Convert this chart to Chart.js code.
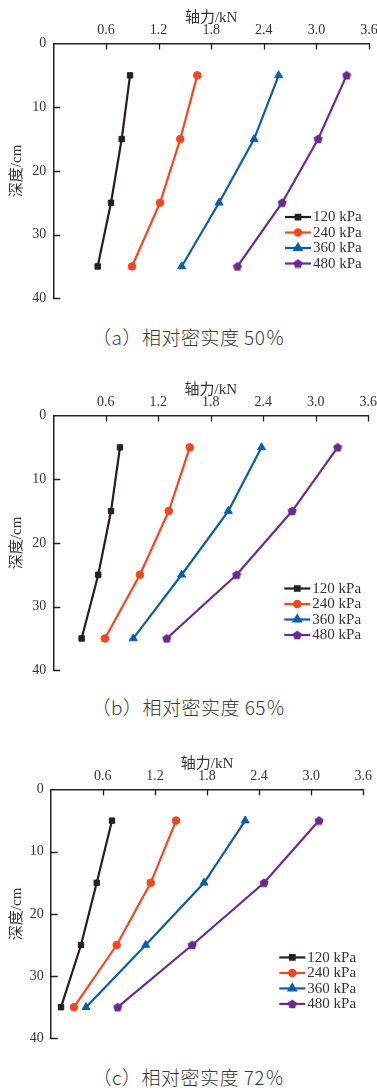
<!DOCTYPE html>
<html>
<head>
<meta charset="utf-8">
<script src="https://cdn.jsdelivr.net/npm/chart.js@4.4.1/dist/chart.umd.min.js"></script>
<style>
    body { margin: 0; background: #fff; width: 377px; height: 1092px; position: relative; overflow: hidden; }
    .panel { position: absolute; left: 0; width: 377px; }
    .cap {
        position: absolute; left: 0; width: 377px; text-align: center;
        font-family: 'Noto Sans CJK SC', sans-serif; font-weight: 300; font-size: 19px;
        line-height: 27px; color: #3a3a3a; letter-spacing: 0.5px;
    }
</style>
</head>
<body>
<div class="panel" style="top:0"><canvas id="chartA" width="377" height="305"></canvas></div>
<div class="cap" style="top:323px">（a）相对密实度 50％</div>
<div class="panel" style="top:372px"><canvas id="chartB" width="377" height="305"></canvas></div>
<div class="cap" style="top:693px">（b）相对密实度 65％</div>
<div class="panel" style="top:746px"><canvas id="chartC" width="377" height="299"></canvas></div>
<div class="cap" style="top:1063px">（c）相对密实度 72％</div>

<script>
// --- Data ---
const depths = [5, 15, 25, 35];           // cm
const pressures = ['120 kPa', '240 kPa', '360 kPa', '480 kPa'];
const xTicks = [0, 0.6, 1.2, 1.8, 2.4, 3.0, 3.6];
const yTicks = [0, 10, 20, 30, 40];

// (a) Dr = 50%
const a120 = [0.875, 0.78, 0.658, 0.506];
const a240 = [1.642, 1.448, 1.217, 0.897];
const a360 = [2.57, 2.29, 1.89, 1.464];
const a480 = [3.345, 3.02, 2.61, 2.10];
// (b) Dr = 65%
const b120 = [0.762, 0.66, 0.514, 0.324];
const b240 = [1.56, 1.32, 0.99, 0.59];
const b360 = [2.38, 2.0, 1.467, 0.914];
const b480 = [3.25, 2.73, 2.095, 1.296];
// (c) Dr = 72%
const c120 = [0.706, 0.53, 0.349, 0.119];
const c240 = [1.444, 1.152, 0.76, 0.268];
const c360 = [2.24, 1.766, 1.094, 0.407];
const c480 = [3.09, 2.457, 1.63, 0.772];

const colors = ['#231f20', '#f4471f', '#0b5cab', '#6b2a90'];
const axisColor = '#222';
const textColor = '#333';
const serif = "'Liberation Serif', 'Noto Sans CJK SC', serif";

// purple marker is a small pentagon
function makePentagon(color) {
    const c = document.createElement('canvas');
    c.width = 10; c.height = 10;
    const g = c.getContext('2d');
    g.fillStyle = color;
    g.beginPath();
    for (let i = 0; i < 5; i++) {
        const a = -Math.PI / 2 + i * 2 * Math.PI / 5;
        const px = 5 + 4.8 * Math.cos(a), py = 5.3 + 4.8 * Math.sin(a);
        i === 0 ? g.moveTo(px, py) : g.lineTo(px, py);
    }
    g.closePath();
    g.fill();
    return c;
}
const markers = [
    { style: 'rect', radius: 3.8 },
    { style: 'circle', radius: 3.8 },
    { style: 'triangle', radius: 4.6 },
    { style: makePentagon(colors[3]), radius: 4.5 }
];

// Inward tick marks on both axes
const inwardTicks = {
    id: 'inwardTicks',
    afterDraw(chart) {
        const { ctx, chartArea, scales: { x, y } } = chart;
        ctx.save();
        ctx.strokeStyle = axisColor;
        ctx.lineWidth = 1.3;
        ctx.beginPath();
        x.ticks.forEach(t => {
            if (t.value === 0) return;
            const px = Math.round(x.getPixelForValue(t.value)) + 0.5;
            ctx.moveTo(px, chartArea.top);
            ctx.lineTo(px, chartArea.top + 6);
        });
        y.ticks.forEach(t => {
            if (t.value === 0) return;
            const py = Math.round(y.getPixelForValue(t.value)) + 0.5;
            ctx.moveTo(chartArea.left, py);
            ctx.lineTo(chartArea.left + 7, py);
        });
        ctx.stroke();
        ctx.restore();
    }
};

// Legend drawn inside the plot, lower right
const insideLegend = {
    id: 'insideLegend',
    afterDatasetsDraw(chart, args, opts) {
        const { ctx, chartArea } = chart;
        const x0 = chartArea.right - 84;
        const y0 = chartArea.top + opts.frac * (chartArea.bottom - chartArea.top);
        ctx.save();
        chart.data.datasets.forEach((ds, i) => {
            const yy = y0 + i * 15.5;
            ctx.strokeStyle = ds.borderColor;
            ctx.fillStyle = ds.borderColor;
            ctx.lineWidth = 2.2;
            ctx.beginPath();
            ctx.moveTo(x0, yy);
            ctx.lineTo(x0 + 26, yy);
            ctx.stroke();
            Chart.helpers.drawPoint(ctx, {
                pointStyle: ds.pointStyle, radius: ds.pointRadius - 0.6, rotation: 0, borderWidth: 1
            }, x0 + 13, yy);
            ctx.fillStyle = textColor;
            ctx.font = '15px ' + serif;
            ctx.textBaseline = 'middle';
            ctx.fillText(ds.label, x0 + 28, yy + 0.5);
        });
        ctx.restore();
    }
};

function buildChart(id, series, geo) {
    const ctx = document.getElementById(id).getContext('2d');
    const datasets = series.map((vals, i) => ({
        label: pressures[i],
        data: vals.map((v, k) => ({ x: v, y: depths[k] })),
        borderColor: colors[i],
        backgroundColor: colors[i],
        pointBackgroundColor: colors[i],
        pointBorderColor: colors[i],
        pointStyle: markers[i].style,
        pointRadius: markers[i].radius,
        pointBorderWidth: 1,
        borderWidth: 2.2,
        tension: 0
    }));

    return new Chart(ctx, {
        type: 'line',
        data: { datasets },
        options: {
            responsive: false,
            animation: false,
            devicePixelRatio: 1,
            layout: { padding: { top: 0, left: 0, right: geo.right, bottom: geo.bottom } },
            plugins: {
                legend: { display: false },
                tooltip: { enabled: false },
                insideLegend: { frac: geo.legendFrac }
            },
            scales: {
                x: {
                    type: 'linear',
                    position: 'top',
                    min: 0,
                    max: 3.6,
                    afterBuildTicks: s => { s.ticks = xTicks.map(v => ({ value: v })); },
                    afterFit: s => {
                        s.height = geo.top;
                        s.paddingLeft = 0; s.paddingRight = 0;
                    },
                    grid: { display: true, drawOnChartArea: false, drawTicks: false },
                    border: { display: true, color: axisColor, width: 1.5 },
                    ticks: {
                        padding: 5,
                        color: textColor,
                        font: { family: serif, size: 14 },
                        maxRotation: 0,
                        callback: v => v === 0 ? '' : v.toFixed(1)
                    },
                    title: {
                        display: true,
                        text: '轴力/kN',
                        color: textColor,
                        font: { family: serif, size: 15 },
                        padding: { top: 9, bottom: 0 }
                    }
                },
                y: {
                    type: 'linear',
                    reverse: true,
                    min: 0,
                    max: 40,
                    afterBuildTicks: s => { s.ticks = yTicks.map(v => ({ value: v })); },
                    afterFit: s => {
                        s.width = geo.left;
                        s.paddingTop = 0; s.paddingBottom = 0;
                    },
                    grid: { display: true, drawOnChartArea: false, drawTicks: false },
                    border: { display: true, color: axisColor, width: 1.5 },
                    ticks: {
                        padding: 7,
                        color: textColor,
                        font: { family: serif, size: 14 }
                    },
                    title: {
                        display: true,
                        text: '深度/cm',
                        color: textColor,
                        font: { family: serif, size: 15 },
                        padding: { top: 8, bottom: 0 }
                    }
                }
            }
        },
        plugins: [inwardTicks, insideLegend]
    });
}

buildChart('chartA', [a120, a240, a360, a480], { top: 43.5, left: 53.3, right: 8, bottom: 6.7, legendFrac: 0.681 });
buildChart('chartB', [b120, b240, b360, b480], { top: 43.5, left: 53.3, right: 8.7, bottom: 6.7, legendFrac: 0.679 });
buildChart('chartC', [c120, c240, c360, c480], { top: 43.5, left: 50.7, right: 13.7, bottom: 6.7, legendFrac: 0.675 });
</script>
</body>
</html>
